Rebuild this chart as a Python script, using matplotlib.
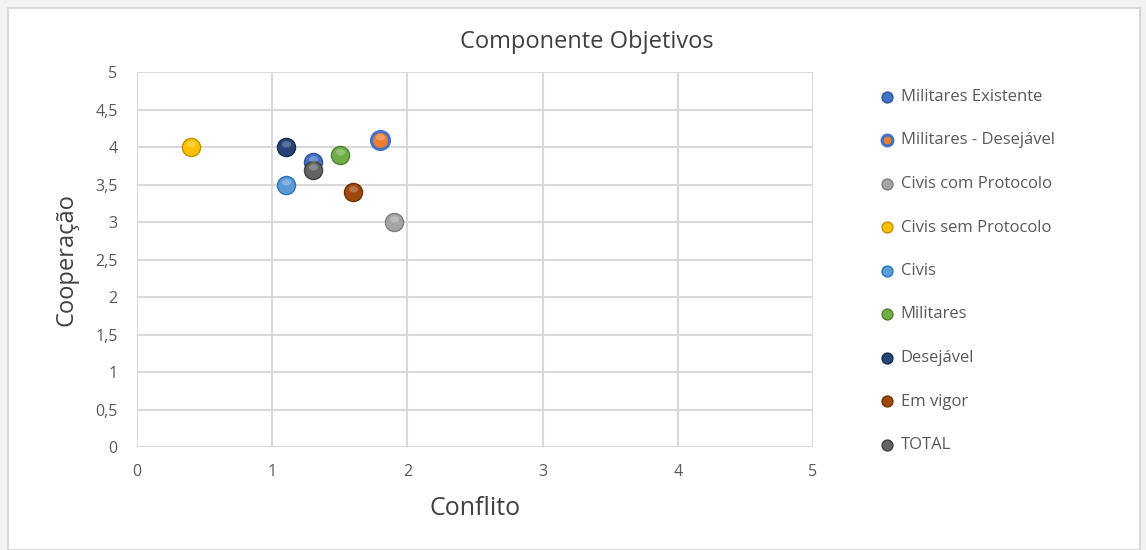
import numpy as np
import matplotlib.pyplot as plt
from matplotlib.patches import Rectangle
from matplotlib.path import Path
from matplotlib.ticker import FuncFormatter

plt.rcParams['font.family'] = ['Open Sans', 'DejaVu Sans']

series = ['Militares Existente', 'Militares - Desejável', 'Civis com Protocolo',
          'Civis sem Protocolo', 'Civis', 'Militares', 'Desejável', 'Em vigor', 'TOTAL']
conflito = [1.3, 1.8, 1.9, 0.4, 1.1, 1.5, 1.1, 1.6, 1.3]
cooperacao = [3.8, 4.1, 3.0, 4.0, 3.5, 3.9, 4.0, 3.4, 3.7]

faces = ['#4472C4', '#ED7D31', '#A5A5A5', '#FFC000', '#5B9BD5',
         '#70AD47', '#264478', '#9E480E', '#636363']
edges = ['#2F5597', '#4472C4', '#7F7F7F', '#BF9000', '#2E75B6',
         '#507E32', '#172A4B', '#6E320A', '#404040']

# glossy highlight: small ellipse sitting in the upper part of the sphere
t = np.linspace(0, 2 * np.pi, 40)
glint = Path(np.column_stack([0.5 * np.cos(t), 0.35 + 0.35 * np.sin(t)]))
glint_scale = 0.7 ** 2

fig = plt.figure(figsize=(11.46, 5.5), dpi=100)
fig.patch.set_facecolor('#f2f2f2')
fig.patches.append(Rectangle((8 / 1146, 0), 1132 / 1146, 542 / 550, transform=fig.transFigure,
                             facecolor='white', edgecolor='#d9d9d9', lw=1.5, zorder=-5))

ax = fig.add_axes([137 / 1146, 1 - 447 / 550, 676 / 1146, 375 / 550])
ax.set_facecolor('none')

for i, name in enumerate(series):
    lw = 2.2 if name == 'Militares - Desejável' else 1.0
    ax.scatter(conflito[i], cooperacao[i], s=170, color=faces[i], edgecolors=edges[i],
               linewidths=lw, label=name, zorder=3)
    ax.scatter(conflito[i], cooperacao[i], s=170 * glint_scale, marker=glint, color='white',
               alpha=0.25, linewidths=0, zorder=4)

ax.set_xlim(0, 5)
ax.set_ylim(0, 5)
ax.set_xticks([0, 1, 2, 3, 4, 5])
ax.set_yticks([0, 0.5, 1, 1.5, 2, 2.5, 3, 3.5, 4, 4.5, 5])
ax.yaxis.set_major_formatter(FuncFormatter(lambda v, p: ('%g' % v).replace('.', ',')))
ax.grid(True, color='#d9d9d9', lw=1.5, zorder=0)
for s in ax.spines.values():
    s.set_visible(False)
ax.tick_params(length=0, colors='#595959', labelsize=11.5, pad=14)
ax.tick_params(axis='x', pad=12)

ax.set_xlabel('Conflito', fontsize=18, color='#404040', labelpad=12)
ax.set_ylabel('Cooperação', fontsize=17, color='#404040', labelpad=12)
fig.text(587 / 1146, 1 - 42 / 550, 'Componente Objetivos', fontsize=17, color='#404040',
         ha='center', va='center')

handles, labels = ax.get_legend_handles_labels()
leg = fig.legend(handles, labels, loc='upper left', bbox_to_anchor=(864 / 1146, 1 - 74 / 550),
                 frameon=False, fontsize=12, labelspacing=1.65, handlelength=1.0,
                 handletextpad=0.3, markerscale=0.6, labelcolor='#595959')

fig.savefig('out.png', dpi=100)
